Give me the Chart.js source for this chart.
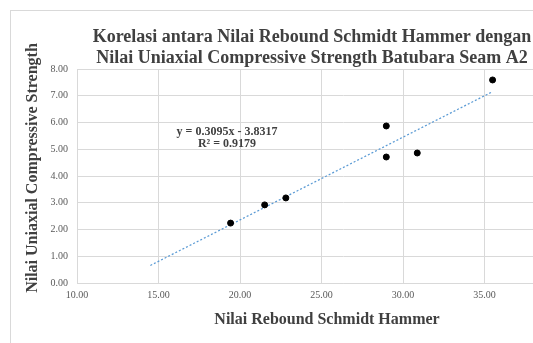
<!DOCTYPE html>
<html>
<head>
<meta charset="utf-8">
<script src="https://cdn.jsdelivr.net/npm/chart.js@4"></script>
<style>
  html, body { margin: 0; padding: 0; background: #fff; overflow: hidden; width: 533px; height: 343px; }
  #frame { position: absolute; left: 10px; top: 10px; width: 620px; height: 360px; border: 1px solid #d9d9d9; background: #fff; }
  #chart { display: block; }
</style>
</head>
<body>
<div id="frame"><canvas id="chart" width="602" height="332"></canvas></div>
<script>
// Data
const reboundValues = [19.42, 21.51, 22.81, 28.97, 28.97, 30.87, 35.49];
const ucsValues = [2.24, 2.92, 3.18, 5.87, 4.71, 4.86, 7.59];

// Linear trendline as printed on the chart
const trendSlope = 0.3095;
const trendIntercept = -3.8317;
const trendRange = [14.5, 35.49];
const trendLabel = ['y = 0.3095x - 3.8317', 'R² = 0.9179'];
const trendLabelPos = [19.2, 5.64];

const xTickMax = 40;
const titleLines = ['Korelasi antara Nilai Rebound Schmidt Hammer dengan', 'Nilai Uniaxial Compressive Strength Batubara Seam A2'];
const xTitle = 'Nilai Rebound Schmidt Hammer';
const yTitle = 'Nilai Uniaxial Compressive Strength';

const serif = '"Liberation Serif", "Times New Roman", serif';
const gridColor = '#d9d9d9';

const points = reboundValues.map((x, i) => ({ x: x, y: ucsValues[i] }));
const trendPoints = trendRange.map(x => ({ x: x, y: trendSlope * x + trendIntercept }));

// equation text (data coords) and the two axis titles
const labelsPlugin = {
    id: 'labels',
    afterDatasetsDraw(chart) {
        const ctx = chart.ctx;
        const area = chart.chartArea;
        const px = chart.scales.x.getPixelForValue(trendLabelPos[0]);
        const py = chart.scales.y.getPixelForValue(trendLabelPos[1]);
        ctx.save();
        ctx.font = 'bold 12px ' + serif;
        ctx.fillStyle = '#404040';
        ctx.textAlign = 'center';
        ctx.textBaseline = 'middle';
        trendLabel.forEach((t, i) => ctx.fillText(t, px, py + i * 12));

        ctx.font = 'bold 16px ' + serif;
        ctx.fillText(xTitle, area.left + 250, area.bottom + 37);
        ctx.translate(22, area.top + 99);
        ctx.rotate(-Math.PI / 2);
        ctx.fillText(yTitle, 0, 0);
        ctx.restore();
    }
};

new Chart(document.getElementById('chart'), {
    type: 'scatter',
    data: {
        datasets: [{
            label: 'UCS',
            data: points,
            backgroundColor: '#000',
            borderColor: '#000',
            pointRadius: 3,
            pointHoverRadius: 3
        }, {
            label: 'Trend',
            data: trendPoints,
            showLine: true,
            borderColor: '#5b9bd5',
            borderWidth: 1.25,
            borderDash: [2, 2],
            pointRadius: 0,
            fill: false
        }]
    },
    options: {
        responsive: false,
        animation: false,
        layout: { padding: 0 },
        plugins: {
            legend: { display: false },
            tooltip: { enabled: false },
            title: {
                display: true,
                text: titleLines,
                color: '#404040',
                font: { family: serif, size: 18, weight: 'bold', lineHeight: '21px' },
                padding: { top: 16, bottom: 0 }
            }
        },
        scales: {
            x: {
                type: 'linear',
                min: 10,
                max: 42.63,
                afterFit: s => { s.height = 60; },
                afterBuildTicks: s => { s.ticks = s.ticks.filter(t => t.value <= xTickMax); },
                ticks: {
                    stepSize: 5,
                    padding: 6,
                    color: '#595959',
                    font: { family: serif, size: 10 },
                    maxRotation: 0,
                    callback: v => v.toFixed(2)
                },
                grid: { color: gridColor, drawTicks: false },
                border: { color: gridColor }
            },
            y: {
                min: 0,
                max: 8,
                afterFit: s => { s.width = 66; },
                ticks: {
                    stepSize: 1,
                    padding: 9,
                    color: '#595959',
                    font: { family: serif, size: 10 },
                    callback: v => v.toFixed(2)
                },
                grid: { color: gridColor, drawTicks: false },
                border: { color: gridColor }
            }
        }
    },
    plugins: [labelsPlugin]
});
</script>
</body>
</html>
